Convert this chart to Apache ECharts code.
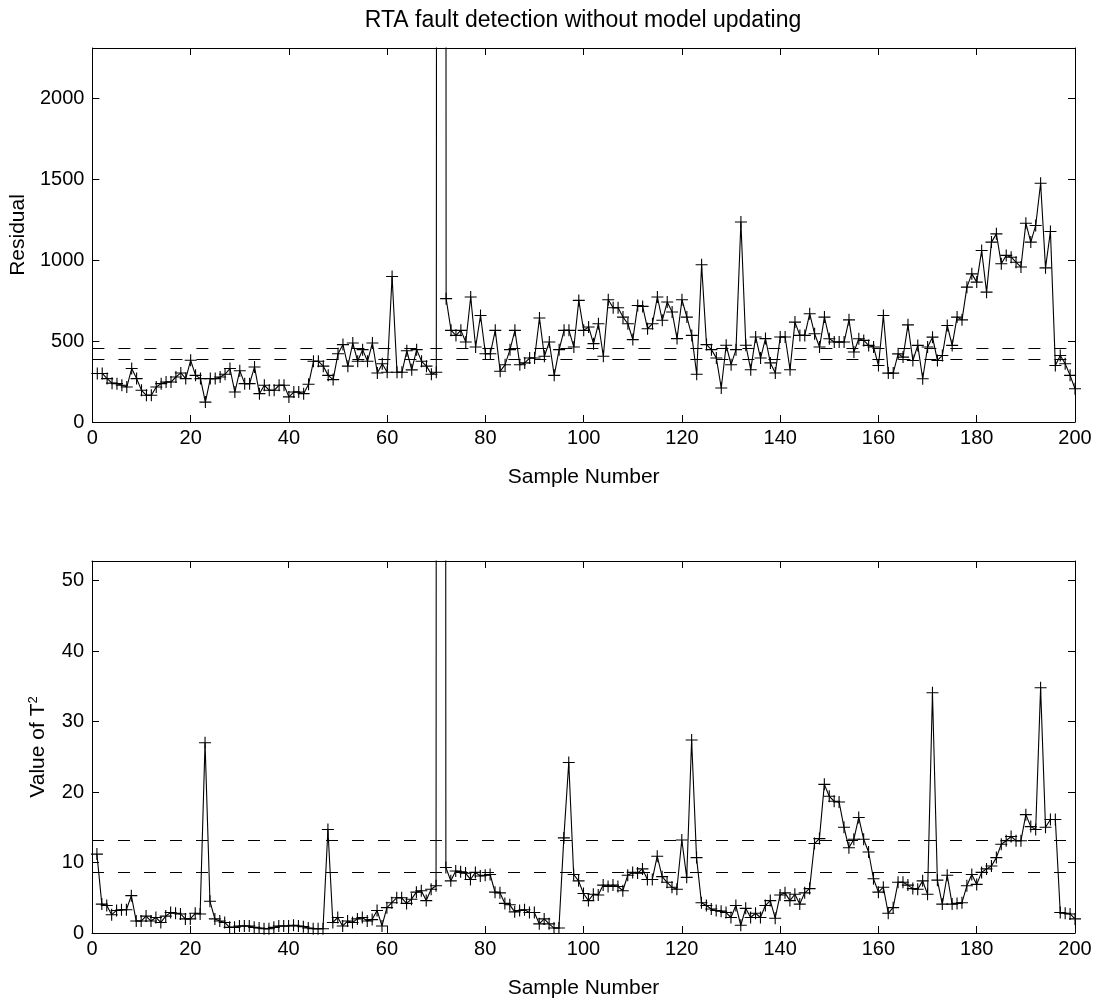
<!DOCTYPE html>
<html>
<head>
<meta charset="utf-8">
<script src="https://cdn.jsdelivr.net/npm/echarts@6/dist/echarts.min.js"></script>
<style>
  html, body { margin: 0; padding: 0; background: #fff; }
  #chart { width: 1097px; height: 1000px; }
</style>
</head>
<body>
<div id="chart"></div>
<script>
// sample numbers 1..200
const samples = Array.from({ length: 200 }, (_, i) => i + 1)

// residual, samples 1..200 (sample 71 is far off-scale)
const residual = [
  300, 300, 268, 240, 237, 227, 216, 330, 268, 196,
  165, 165, 216, 237, 247, 247, 278, 303, 268, 381,
  288, 268, 123, 268, 268, 278, 295, 330, 185, 317,
  237, 237, 340, 175, 227, 196, 196, 227, 227, 155,
  185, 185, 175, 233, 375, 375, 345, 288, 262, 422,
  478, 345, 488, 375, 447, 375, 488, 303, 360, 307,
  899, 307, 307, 440, 322, 447, 375, 345, 295, 307,
  60000, 762, 566, 535, 566, 494, 772, 463, 658, 422,
  422, 566, 313, 354, 447, 566, 354, 365, 395, 395,
  642, 406, 494, 288, 447, 566, 566, 463, 751, 566,
  587, 484, 607, 406, 755, 706, 706, 648, 607, 509,
  720, 714, 576, 607, 772, 628, 741, 679, 515, 755,
  648, 535, 295, 971, 478, 447, 395, 210, 474, 354,
  447, 1235, 474, 323, 525, 395, 515, 365, 303, 525,
  525, 323, 617, 535, 535, 669, 545, 463, 648, 514,
  494, 494, 494, 631, 432, 514, 504, 473, 463, 349,
  658, 302, 302, 421, 401, 600, 380, 473, 267, 463,
  524, 380, 411, 596, 473, 648, 631, 833, 915, 864,
  1059, 802, 1111, 1162, 977, 1029, 1018, 987, 957, 1228,
  1111, 1214, 1475, 952, 1177, 349, 411, 360, 288, 205
]

// T^2, samples 1..200 (sample 71 is far off-scale)
const tsquare = [
  11.2, 4.1, 3.9, 2.6, 3.2, 3.3, 3.3, 5.3, 1.7, 1.7,
  2.4, 1.7, 2.2, 1.5, 2.4, 2.9, 2.8, 2.7, 2.0, 2.0,
  2.8, 2.7, 27.0, 4.5, 2.0, 1.7, 1.5, 0.8, 0.8, 1.0,
  1.0, 1.0, 0.8, 0.7, 0.6, 0.6, 0.8, 1.0, 1.0, 1.0,
  1.1, 1.0, 0.9, 0.7, 0.6, 0.6, 0.6, 14.7, 1.5, 2.2,
  1.0, 1.7, 1.5, 2.0, 2.2, 1.7, 1.9, 3.2, 1.0, 3.6,
  4.3, 5.0, 5.0, 4.2, 4.8, 5.8, 6.0, 4.6, 6.2, 6.7,
  1500, 9.3, 7.4, 8.8, 8.7, 8.5, 7.6, 8.6, 8.1, 8.2,
  8.3, 5.8, 5.7, 4.2, 4.0, 3.0, 3.2, 3.3, 2.9, 2.9,
  1.3, 2.0, 1.3, 0.7, 0.7, 13.5, 24.2, 8.3, 7.4, 5.6,
  4.6, 5.5, 5.4, 6.8, 6.6, 6.8, 6.6, 6.0, 8.2, 8.6,
  8.5, 9.1, 7.6, 7.6, 10.9, 8.0, 7.2, 6.5, 6.2, 13.2,
  7.9, 27.4, 10.7, 4.3, 3.9, 3.4, 3.2, 3.1, 2.9, 2.2,
  3.9, 1.1, 3.5, 2.2, 2.8, 2.2, 3.9, 4.6, 2.1, 5.4,
  5.7, 4.6, 5.5, 4.1, 5.7, 6.3, 12.7, 13.4, 21.1, 19.4,
  18.7, 18.6, 15.0, 12.1, 13.3, 16.4, 13.3, 11.5, 7.7, 5.8,
  6.5, 2.8, 3.6, 7.2, 7.2, 6.8, 6.3, 6.2, 7.4, 5.5,
  34.1, 7.5, 4.1, 8.2, 4.1, 4.2, 4.3, 6.7, 8.3, 6.9,
  8.6, 9.1, 9.5, 10.7, 12.6, 13.1, 13.7, 13.1, 13.1, 16.8,
  15.1, 14.7, 34.8, 15.0, 16.1, 16.1, 2.9, 2.8, 2.7, 2.0
]

// control limits (dashed lines)
const residualLimits = [455, 385]
const tsquareLimits = [13.1, 8.6]

const FONT = 'Liberation Sans'
const plus = 'path://M0,5L10,5M5,0L5,10'

function xAxes(gridIndex) {
  const base = {
    gridIndex, type: 'value', min: 0, max: 200, interval: 20,
    splitLine: { show: false },
    axisLine: { show: true, onZero: false, lineStyle: { color: '#000', width: 1 } },
    axisTick: { inside: true, length: 7, lineStyle: { color: '#000' } }
  }
  return [
    Object.assign({}, base, {
      position: 'bottom',
      name: 'Sample Number', nameLocation: 'middle', nameGap: 45,
      nameTextStyle: { fontFamily: FONT, fontSize: 21, color: '#000' },
      axisLabel: { fontFamily: FONT, fontSize: 20, color: '#000', margin: 6 }
    }),
    Object.assign({}, base, { position: 'top', axisLabel: { show: false } })
  ]
}

function yAxes(gridIndex, max, interval, name, gap) {
  const base = {
    gridIndex, type: 'value', min: 0, max, interval,
    splitLine: { show: false },
    axisLine: { show: true, onZero: false, lineStyle: { color: '#000', width: 1 } },
    axisTick: { inside: true, length: 7, lineStyle: { color: '#000' } }
  }
  return [
    Object.assign({}, base, {
      position: 'left',
      name, nameLocation: 'middle', nameGap: gap, nameRotate: 90,
      nameTextStyle: {
        fontFamily: FONT, fontSize: 21, color: '#000',
        rich: { sup: { fontFamily: FONT, fontSize: 13, color: '#000', verticalAlign: 'top', padding: [0, 0, 10, 0] } }
      },
      axisLabel: {
        fontFamily: FONT, fontSize: 20, color: '#000', margin: 8,
        formatter: v => (v % interval === 0 ? String(v) : '')
      }
    }),
    Object.assign({}, base, { position: 'right', axisLabel: { show: false } })
  ]
}

function lineSeries(values, limits, xi, yi) {
  return {
    type: 'line',
    xAxisIndex: xi, yAxisIndex: yi,
    data: samples.map((s, i) => [s, values[i]]),
    clip: true,
    symbol: plus,
    symbolSize: 12,
    showAllSymbol: true,
    lineStyle: { color: '#000', width: 1.1 },
    itemStyle: { color: 'rgba(0,0,0,0)', borderColor: '#000', borderWidth: 1.1 },
    markLine: {
      silent: true,
      symbol: 'none',
      label: { show: false },
      lineStyle: { color: '#000', width: 1.1, type: [12, 14] },
      data: limits.map(v => ({ yAxis: v }))
    }
  }
}

const chart = echarts.init(document.getElementById('chart'), null, { renderer: 'canvas' })
chart.setOption({
  animation: false,
  backgroundColor: '#fff',
  title: {
    text: 'RTA fault detection without model updating',
    left: 578, top: 4, textAlign: 'center',
    textStyle: { fontFamily: FONT, fontSize: 23, fontWeight: 'normal', color: '#000' }
  },
  grid: [
    { left: 92, top: 48, width: 983, height: 374 },
    { left: 92, top: 561, width: 983, height: 373 }
  ],
  xAxis: [...xAxes(0), ...xAxes(1)],
  yAxis: [
    ...yAxes(0, 2310, 500, 'Residual', 52),
    ...yAxes(1, 52.8, 10, 'Value of T{sup|2}', 42)
  ],
  series: [
    lineSeries(residual, residualLimits, 0, 0),
    lineSeries(tsquare, tsquareLimits, 2, 2)
  ]
})
</script>
</body>
</html>
